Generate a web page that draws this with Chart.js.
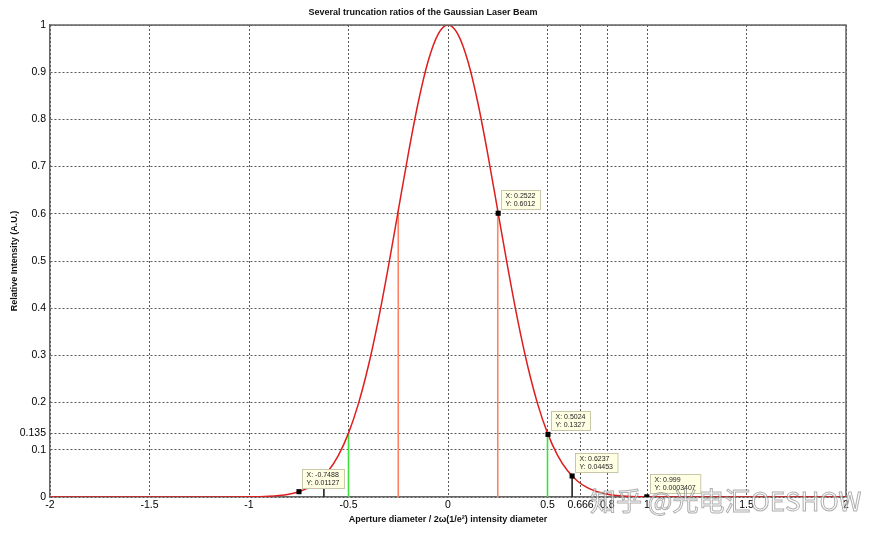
<!DOCTYPE html>
<html>
<head>
<meta charset="utf-8">
<script src="https://cdn.jsdelivr.net/npm/chart.js@4.4.0/dist/chart.umd.min.js"></script>
<style>
  html, body { margin: 0; padding: 0; background: #fff; }
  #wrap { width: 885px; height: 539px; }
</style>
</head>
<body>
<div id="wrap"><canvas id="gaussChart"></canvas></div>
<script>
// ==========================================
// DATA
// ==========================================

const curveX = [-2, -1.5, -1.2, -1.1, -1, -0.95, -0.9, -0.85, -0.8, -0.75, -0.7, -0.65, -0.6, -0.55,
    -0.5, -0.45, -0.4, -0.35, -0.3, -0.25, -0.2, -0.15, -0.1, -0.05, 0,
    0.05, 0.1, 0.15, 0.2, 0.25, 0.3, 0.35, 0.4, 0.45, 0.5,
    0.55, 0.6, 0.65, 0.7, 0.75, 0.8, 0.85, 0.9, 0.95, 1, 1.1, 1.2, 1.5, 2];
const curveY = [0, 0, 0, 0.0001, 0.0003, 0.0007, 0.0015, 0.0031, 0.006, 0.0111, 0.0198, 0.034, 0.0561, 0.0889,
    0.1353, 0.1979, 0.278, 0.3753, 0.4868, 0.6065, 0.7261, 0.8353, 0.9231, 0.9802, 1,
    0.9802, 0.9231, 0.8353, 0.7261, 0.6065, 0.4868, 0.3753, 0.278, 0.1979, 0.1353,
    0.0889, 0.0561, 0.034, 0.0198, 0.0111, 0.006, 0.0031, 0.0015, 0.0007, 0.0003, 0.0001, 0, 0, 0];

// vertical truncation lines
const orangeStemX = [-0.25, 0.25];
const orangeStemTop = [0.6065, 0.6065];
const greenStemX = [-0.5, 0.5];
const greenStemTop = [0.1353, 0.1353];
const blackStemX = [-0.6237, 0.6237];
const blackStemTop = [0.019, 0.04453];

// data tips
const tipX = [0.2522, 0.5024, 0.6237, 0.999, -0.7488];
const tipY = [0.6012, 0.1327, 0.04453, 0.0003407, 0.01127];

// tick labels
const xTicks = [-2, -1.5, -1, -0.5, 0, 0.5, 0.666, 0.8, 1, 1.5, 2];
const yTicks = [0, 0.1, 0.135, 0.2, 0.3, 0.4, 0.5, 0.6, 0.7, 0.8, 0.9, 1];

const chartTitle = 'Several truncation ratios of the Gaussian Laser Beam';
const xTitle = 'Aperture diameter / 2\u03c9(1/e\u00b2) intensity diameter';
const yTitle = 'Relative Intensity (A.U.)';
const watermark = '知乎 @光电汇OESHOW';

// ==========================================
// HELPERS
// ==========================================

function stemSets(xs, tops, color) {
    return xs.map((x, i) => ({
        type: 'line',
        data: [{ x: x, y: 0 }, { x: x, y: tops[i] }],
        borderColor: color,
        borderWidth: 1.6,
        pointRadius: 0,
        order: 3
    }));
}

const FONT = 'Arial, "Liberation Sans", sans-serif';

// frame + data tips + watermark
const overlayPlugin = {
    id: 'overlay',
    afterDatasetsDraw(chart) {
        const { ctx, chartArea: a, scales } = chart;
        ctx.save();
        // top / right frame lines
        ctx.strokeStyle = '#666';
        ctx.lineWidth = 1.5;
        ctx.beginPath();
        ctx.moveTo(a.left, a.top);
        ctx.lineTo(a.right, a.top);
        ctx.lineTo(a.right, a.bottom);
        ctx.stroke();

        // data tip boxes
        ctx.font = '7px ' + FONT;
        ctx.textBaseline = 'middle';
        tipX.forEach((x, i) => {
            const px = scales.x.getPixelForValue(x);
            const py = scales.y.getPixelForValue(tipY[i]);
            const l1 = 'X: ' + x;
            const l2 = 'Y: ' + tipY[i];
            const w = Math.max(ctx.measureText(l1).width, ctx.measureText(l2).width) + 9;
            const h = 19;
            const bx = Math.round(px + 3) + 0.5;
            const by = Math.round(py - 4 - h) + 0.5;
            ctx.fillStyle = 'rgba(255,255,225,0.95)';
            ctx.fillRect(bx, by, w, h);
            ctx.strokeStyle = '#c8c8a8';
            ctx.lineWidth = 1;
            ctx.strokeRect(bx, by, w, h);
            ctx.fillStyle = '#222';
            ctx.fillText(l1, bx + 4, by + 5.5);
            ctx.fillText(l2, bx + 4, by + 13.5);
        });

        // watermark
        ctx.font = '26px "Noto Sans CJK SC", sans-serif';
        ctx.textBaseline = 'alphabetic';
        ctx.lineWidth = 1;
        ctx.fillStyle = 'rgba(255,255,255,0.55)';
        ctx.strokeStyle = 'rgba(110,110,110,0.55)';
        ctx.fillText(watermark, 590, 511);
        ctx.strokeText(watermark, 590, 511);
        ctx.restore();
    }
};

// ==========================================
// CHART
// ==========================================

function initGaussChart() {
    const ctx = document.getElementById('gaussChart');

    const datasets = [
        {
            type: 'line',
            label: 'Gaussian',
            data: curveX.map((x, i) => ({ x: x, y: curveY[i] })),
            borderColor: 'rgb(222,30,30)',
            borderWidth: 1.5,
            pointRadius: 0,
            cubicInterpolationMode: 'monotone',
            order: 2
        },
        ...stemSets(orangeStemX, orangeStemTop, 'rgb(255,130,100)'),
        ...stemSets(greenStemX, greenStemTop, 'rgb(60,225,60)'),
        ...stemSets(blackStemX, blackStemTop, '#222'),
        {
            type: 'scatter',
            label: 'tips',
            data: tipX.map((x, i) => ({ x: x, y: tipY[i] })),
            pointStyle: 'rect',
            pointRadius: 3.6,
            backgroundColor: '#000',
            borderColor: '#000',
            borderWidth: 0,
            order: 1
        }
    ];

    new Chart(ctx, {
        type: 'line',
        data: { datasets: datasets },
        plugins: [overlayPlugin],
        options: {
            responsive: true,
            maintainAspectRatio: false,
            animation: false,
            layout: { padding: { left: 0, right: 39, top: 0, bottom: 0 } },
            plugins: {
                legend: { display: false },
                tooltip: { enabled: false },
                title: {
                    display: true,
                    text: chartTitle,
                    color: '#111',
                    font: { family: FONT, size: 9, weight: 'bold', lineHeight: 1.2 },
                    padding: { top: 7, bottom: 7.2 }
                }
            },
            scales: {
                x: {
                    type: 'linear',
                    min: -2,
                    max: 2,
                    afterBuildTicks: s => { s.ticks = xTicks.map(v => ({ value: v })); },
                    afterFit: s => { s.height = 42; },
                    ticks: {
                        autoSkip: false,
                        maxRotation: 0,
                        padding: 2,
                        color: '#000',
                        font: { family: FONT, size: 10.5 },
                        callback: v => String(v)
                    },
                    grid: { color: 'rgba(70,70,70,0.9)', lineWidth: 1, drawTicks: false },
                    border: { color: '#666', width: 1.5, dash: [2, 2] },
                    title: {
                        display: true,
                        text: xTitle,
                        color: '#111',
                        font: { family: FONT, size: 9, weight: 'bold', lineHeight: 1.2 },
                        padding: { top: 0, bottom: 14 }
                    }
                },
                y: {
                    type: 'linear',
                    min: 0,
                    max: 1,
                    afterBuildTicks: s => { s.ticks = yTicks.map(v => ({ value: v })); },
                    afterFit: s => { s.width = 50; },
                    ticks: {
                        autoSkip: false,
                        padding: 4,
                        color: '#000',
                        font: { family: FONT, size: 10.5 },
                        callback: v => String(v)
                    },
                    grid: { color: 'rgba(70,70,70,0.9)', lineWidth: 1, drawTicks: false },
                    border: { color: '#666', width: 1.5, dash: [2, 2] },
                    title: {
                        display: true,
                        text: yTitle,
                        color: '#111',
                        font: { family: FONT, size: 9, weight: 'bold', lineHeight: 1.2 },
                        padding: { top: 9, bottom: 0 }
                    }
                }
            }
        }
    });
}

document.addEventListener('DOMContentLoaded', initGaussChart);
</script>
</body>
</html>
